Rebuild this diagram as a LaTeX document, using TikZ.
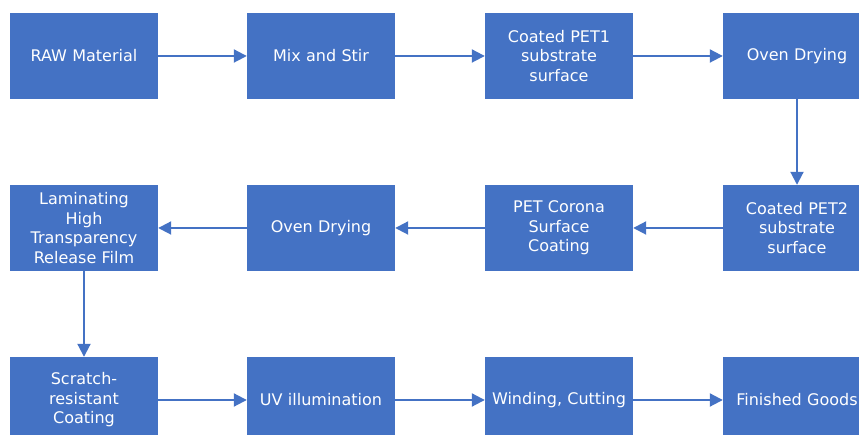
\documentclass[tikz,border=0pt]{standalone}
\usepackage{fontspec}
\setmainfont{DejaVu Sans}
\usetikzlibrary{arrows.meta}
\definecolor{stepblue}{HTML}{4472C4}
\tikzset{
  stepbox/.style={fill=stepblue, text=white, minimum width=148pt, minimum height=86pt,
    text width=146pt, align=center, inner sep=0pt,
    font=\fontsize{16}{19.5}\selectfont},
  flow/.style={stepblue, line width=2pt, -{Triangle[length=13pt,width=13pt]}}
}

\begin{document}
\begin{tikzpicture}[x=1pt, y=1pt]
\useasboundingbox (0, 0) rectangle (859, 435);
\clip (0, 0) rectangle (859, 435);
% first row
\node [stepbox] (raw) at (84, 379) {RAW Material};
\node [stepbox] (mix) at (321, 379) {Mix and Stir};
\node [stepbox] (pet1) at (559, 379) {Coated PET1\\substrate\\surface};
\node [stepbox] (oven1) at (797, 379) {Oven Drying};
% second row
\node [stepbox] (pet2) at (797, 207) {Coated PET2\\substrate\\surface};
\node [stepbox] (corona) at (559, 207) {PET Corona\\Surface\\Coating};
\node [stepbox] (oven2) at (321, 207) {Oven Drying};
\node [stepbox] (lamin) at (84, 207) {Laminating\\High\\Transparency\\Release Film};
% third row
\node [stepbox] (scratch) at (84, 35) {Scratch-\\resistant\\Coating};
\node [stepbox] (uv) at (321, 35) {UV illumination};
\node [stepbox] (wind) at (559, 35) {Winding, Cutting};
\node [stepbox] (goods) at (797, 35) {Finished Goods};
% arrows
\draw [flow] (raw) -- (mix);
\draw [flow] (mix) -- (pet1);
\draw [flow] (pet1) -- (oven1);
\draw [flow] (oven1) -- (pet2);
\draw [flow] (pet2) -- (corona);
\draw [flow] (corona) -- (oven2);
\draw [flow] (oven2) -- (lamin);
\draw [flow] (lamin) -- (scratch);
\draw [flow] (scratch) -- (uv);
\draw [flow] (uv) -- (wind);
\draw [flow] (wind) -- (goods);
\end{tikzpicture}
\end{document}
